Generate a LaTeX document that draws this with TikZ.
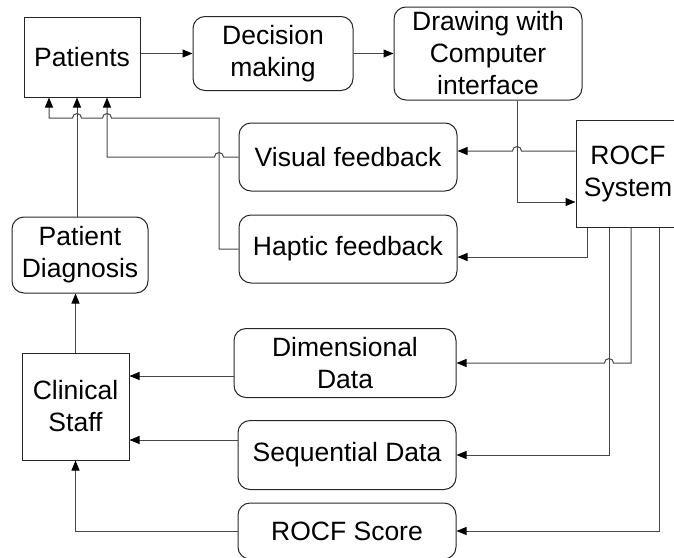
\documentclass[tikz,border=0pt]{standalone}
\usepackage{fontspec}
\setmainfont{Liberation Sans}
\usetikzlibrary{arrows.meta}
\begin{document}
\begin{tikzpicture}[x=1pt,y=-1pt,
  box/.style={draw=black!85, line width=1pt, rectangle, align=center, inner sep=0pt,
    font=\fontsize{26.5}{32}\selectfont},
  sq/.style={box},
  rbox/.style={box, rounded corners=12pt},
  link/.style={draw=black!72, line width=1pt,
    -{Triangle[length=10pt,width=8pt,color=black]}},
  hop/.style={start angle=0, end angle=180, radius=4.5pt},
]
\useasboundingbox (0,0) rectangle (674,557);
\clip (0,0) rectangle (674,557);

% boxes
\node[sq,   minimum width=116pt, minimum height=80pt]  (pat)   at (82,57)     {Patients};
\node[rbox, minimum width=160pt, minimum height=74pt]  (dec)   at (273,53.5)  {Decision\\making};
\node[rbox, minimum width=188pt, minimum height=93pt]  (draw)  at (488,53.5)  {Drawing with\\Computer\\interface};
\node[sq,   minimum width=104pt, minimum height=107pt] (rocf)  at (628,173.5) {ROCF\\System};
\node[rbox, minimum width=218pt, minimum height=68pt]  (vis)   at (348,157)   {Visual feedback};
\node[rbox, minimum width=218pt, minimum height=68pt]  (hap)   at (348,249)   {Haptic feedback};
\node[rbox, minimum width=136pt, minimum height=76pt]  (pdiag) at (80,255)    {Patient\\Diagnosis};
\node[sq,   minimum width=107pt, minimum height=107pt] (clin)  at (75.5,406.5) {Clinical\\Staff};
\node[rbox, minimum width=222pt, minimum height=69pt]  (dim)   at (345,363)   {Dimensional\\Data};
\node[rbox, minimum width=218pt, minimum height=69pt]  (seq)   at (347,455)   {Sequential Data};
\node[rbox, minimum width=218pt, minimum height=56pt]  (score) at (347,531)   {ROCF Score};

% top row
\draw[link] (dec.west -| pat.east) -- (dec.west);
\draw[link] (dec.east) -- (draw.west);
\draw[link] ([xshift=29pt]draw.south) |- ([yshift=-28.5pt]rocf.west);

% ROCF system outputs
\draw[link] ([yshift=22.5pt]rocf.west) -- (521.5,151) arc[hop] -- ([yshift=6pt]vis.east);
\draw[link] ([xshift=-41pt]rocf.south) |- ([yshift=-8pt]hap.east);
\draw[link] ([xshift=3pt]rocf.south) |- (613.5,363) arc[hop] -- (dim.east);
\draw[link] ([xshift=-19pt]rocf.south) |- (seq.east);
\draw[link] ([xshift=31pt]rocf.south) |- (score.east);

% feedback to patients
\draw[link] (vis.west) -- (223.5,157) arc[hop] -- (107,157) -- ([xshift=25pt]pat.south);
\draw[link] (hap.west) -| (219,118) -- (111.5,118) arc[hop] -- (81.5,118) arc[hop]
  -- (49,118) -- ([xshift=-33pt]pat.south);

% diagnosis chain
\draw[link] ([xshift=-3pt]pdiag.north) -- ([xshift=-5pt]pat.south);
\draw[link] (clin.north) -- (clin.north |- pdiag.south);

% data to clinical staff
\coordinate (d1) at ([yshift=-13pt]dim.west);
\coordinate (s1) at ([yshift=15pt]seq.west);
\draw[link] (d1) -- (d1 -| clin.east);
\draw[link] (s1) -- (s1 -| clin.east);
\draw[link] (score.west) -| (clin.south);
\end{tikzpicture}
\end{document}
